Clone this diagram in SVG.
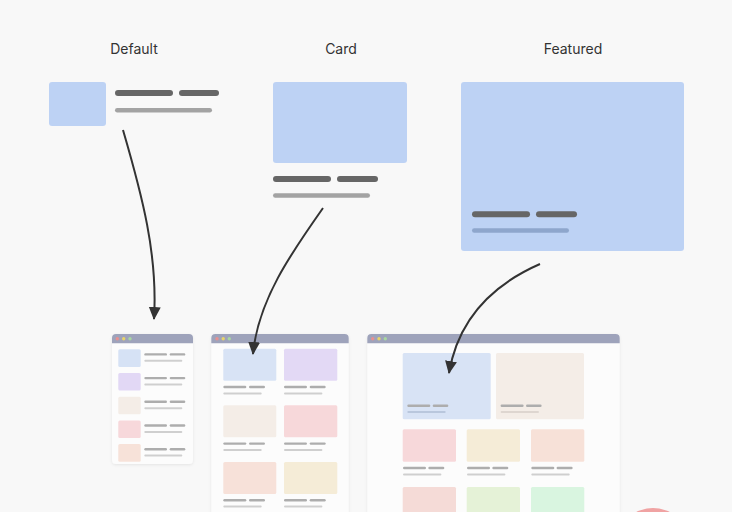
<svg xmlns="http://www.w3.org/2000/svg" width="732" height="512" viewBox="0 0 732 512">
<defs>
<style>
.lbl{font-family:Inter,"Noto Sans","Liberation Sans",sans-serif;font-size:14px;fill:#333;text-anchor:middle}
.hero{fill:#bdd2f4}
.dk{fill:#666}
.lt{fill:#a3a3a3}
.win{fill:#fcfcfc;filter:url(#sh)}
.hdr{fill:#9ea3bb}
.sb{fill:#adadad}
.sl{fill:#cfcfcf}
.conn{fill:none;stroke:#333;stroke-width:2}
</style>
<filter id="sh" x="-10%" y="-10%" width="120%" height="120%">
<feDropShadow dx="0" dy="1" stdDeviation="1.5" flood-color="#000" flood-opacity="0.08"/>
</filter>
<marker id="ah" markerUnits="userSpaceOnUse" markerWidth="14" markerHeight="14" viewBox="0 0 14 14" refX="12" refY="7" orient="auto">
<path d="M0,1 L13,7 L0,13 z" fill="#333"/>
</marker>
</defs>
<rect width="732" height="512" fill="#f8f8f8"/>

<g id="default">
<text class="lbl" x="134" y="54">Default</text>
<rect class="hero" x="49" y="82" width="57" height="44" rx="3"/>
<rect class="dk" x="115" y="90" width="58" height="6" rx="3"/>
<rect class="dk" x="179" y="90" width="40" height="6" rx="3"/>
<rect class="lt" x="115" y="108" width="97" height="4.5" rx="2.25"/>
</g>

<g id="card">
<text class="lbl" x="341" y="54">Card</text>
<rect class="hero" x="273" y="82" width="134" height="81" rx="3"/>
<rect class="dk" x="273" y="176" width="58" height="6" rx="3"/>
<rect class="dk" x="337" y="176" width="41" height="6" rx="3"/>
<rect class="lt" x="273" y="193.3" width="97" height="4.5" rx="2.25"/>
</g>

<g id="featured">
<text class="lbl" x="573" y="54">Featured</text>
<rect class="hero" x="461" y="82" width="223" height="169" rx="3"/>
<rect class="dk" x="472" y="211.3" width="58" height="6" rx="3"/>
<rect class="dk" x="536" y="211.3" width="41" height="6" rx="3"/>
<rect x="472" y="228.3" width="97" height="4.5" rx="2.25" fill="#8ea6cc"/>
</g>

<g id="window-list">
<rect class="win" x="112" y="334" width="81" height="130" rx="4"/>
<path class="hdr" d="M112,343.3 V338 a4,4 0 0 1 4,-4 H189 a4,4 0 0 1 4,4 V343.3 z"/>
<circle cx="117.3" cy="338.7" r="1.7" fill="#e89090"/>
<circle cx="123.7" cy="338.7" r="1.7" fill="#e8d46a"/>
<circle cx="130" cy="338.7" r="1.7" fill="#a9d8a1"/>
<rect x="118.3" y="349.3" width="22.4" height="17.6" rx="1.5" fill="#d6e2f5"/>
<rect x="118.3" y="373" width="22.4" height="17.6" rx="1.5" fill="#e2d8f5"/>
<rect x="118.3" y="396.7" width="22.4" height="17.6" rx="1.5" fill="#f4ede7"/>
<rect x="118.3" y="420.4" width="22.4" height="17.6" rx="1.5" fill="#f7d8db"/>
<rect x="118.3" y="444.1" width="22.4" height="17.6" rx="1.5" fill="#f7e2d9"/>
<g>
<rect class="sb" x="144.3" y="353.2" width="22.7" height="2.4" rx="1.2"/>
<rect class="sb" x="169.7" y="353.2" width="15.6" height="2.4" rx="1.2"/>
<rect class="sl" x="144.3" y="359.8" width="38" height="2" rx="1"/>
<rect class="sb" x="144.3" y="376.9" width="22.7" height="2.4" rx="1.2"/>
<rect class="sb" x="169.7" y="376.9" width="15.6" height="2.4" rx="1.2"/>
<rect class="sl" x="144.3" y="383.5" width="38" height="2" rx="1"/>
<rect class="sb" x="144.3" y="400.6" width="22.7" height="2.4" rx="1.2"/>
<rect class="sb" x="169.7" y="400.6" width="15.6" height="2.4" rx="1.2"/>
<rect class="sl" x="144.3" y="407.2" width="38" height="2" rx="1"/>
<rect class="sb" x="144.3" y="424.3" width="22.7" height="2.4" rx="1.2"/>
<rect class="sb" x="169.7" y="424.3" width="15.6" height="2.4" rx="1.2"/>
<rect class="sl" x="144.3" y="430.9" width="38" height="2" rx="1"/>
<rect class="sb" x="144.3" y="448" width="22.7" height="2.4" rx="1.2"/>
<rect class="sb" x="169.7" y="448" width="15.6" height="2.4" rx="1.2"/>
<rect class="sl" x="144.3" y="454.6" width="38" height="2" rx="1"/>
</g>
</g>

<g id="window-grid">
<rect class="win" x="211.3" y="334" width="137.4" height="190" rx="4"/>
<path class="hdr" d="M211.3,343.3 V338 a4,4 0 0 1 4,-4 H344.7 a4,4 0 0 1 4,4 V343.3 z"/>
<circle cx="217" cy="338.7" r="1.7" fill="#e89090"/>
<circle cx="223.2" cy="338.7" r="1.7" fill="#e8d46a"/>
<circle cx="229.3" cy="338.7" r="1.7" fill="#a9d8a1"/>
<rect x="223.3" y="348.7" width="53" height="32" rx="1.5" fill="#d8e3f5"/>
<rect x="284" y="348.7" width="53.3" height="32" rx="1.5" fill="#e3d9f5"/>
<rect x="223.3" y="405.3" width="53" height="32" rx="1.5" fill="#f4ede7"/>
<rect x="284" y="405.3" width="53.3" height="32" rx="1.5" fill="#f7d8da"/>
<rect x="223.3" y="461.9" width="53" height="32" rx="1.5" fill="#f7e1d9"/>
<rect x="284" y="461.9" width="53.3" height="32" rx="1.5" fill="#f5ecd7"/>
<g>
<rect class="sb" x="223.3" y="385.8" width="23" height="2.4" rx="1.2"/>
<rect class="sb" x="249" y="385.8" width="16" height="2.4" rx="1.2"/>
<rect class="sl" x="223.3" y="392.4" width="38.4" height="2" rx="1"/>
<rect class="sb" x="284" y="385.8" width="23" height="2.4" rx="1.2"/>
<rect class="sb" x="309.7" y="385.8" width="16" height="2.4" rx="1.2"/>
<rect class="sl" x="284" y="392.4" width="38.4" height="2" rx="1"/>
<rect class="sb" x="223.3" y="442.4" width="23" height="2.4" rx="1.2"/>
<rect class="sb" x="249" y="442.4" width="16" height="2.4" rx="1.2"/>
<rect class="sl" x="223.3" y="449" width="38.4" height="2" rx="1"/>
<rect class="sb" x="284" y="442.4" width="23" height="2.4" rx="1.2"/>
<rect class="sb" x="309.7" y="442.4" width="16" height="2.4" rx="1.2"/>
<rect class="sl" x="284" y="449" width="38.4" height="2" rx="1"/>
<rect class="sb" x="223.3" y="499" width="23" height="2.4" rx="1.2"/>
<rect class="sb" x="249" y="499" width="16" height="2.4" rx="1.2"/>
<rect class="sl" x="223.3" y="505.6" width="38.4" height="2" rx="1"/>
<rect class="sb" x="284" y="499" width="23" height="2.4" rx="1.2"/>
<rect class="sb" x="309.7" y="499" width="16" height="2.4" rx="1.2"/>
<rect class="sl" x="284" y="505.6" width="38.4" height="2" rx="1"/>
</g>
</g>

<g id="window-featured">
<rect class="win" x="367.3" y="334" width="252.4" height="190" rx="4"/>
<path class="hdr" d="M367.3,343.3 V338 a4,4 0 0 1 4,-4 H615.7 a4,4 0 0 1 4,4 V343.3 z"/>
<circle cx="372.7" cy="338.7" r="1.7" fill="#e89090"/>
<circle cx="379" cy="338.7" r="1.7" fill="#e8d46a"/>
<circle cx="385.3" cy="338.7" r="1.7" fill="#a9d8a1"/>
<rect x="402.7" y="353" width="88" height="66.3" rx="1.5" fill="#d8e3f5"/>
<rect x="496" y="353" width="88" height="66.3" rx="1.5" fill="#f4ede7"/>
<rect class="sb" x="407.3" y="404.6" width="23" height="2.4" rx="1.2"/>
<rect class="sb" x="432.7" y="404.6" width="15.6" height="2.4" rx="1.2"/>
<rect x="407.3" y="411" width="38.4" height="2" rx="1" fill="#b9c7dd"/>
<rect class="sb" x="500.6" y="404.6" width="23" height="2.4" rx="1.2"/>
<rect class="sb" x="526" y="404.6" width="15.6" height="2.4" rx="1.2"/>
<rect x="500.6" y="411" width="38.4" height="2" rx="1" fill="#ded6d0"/>
<rect x="402.7" y="429.3" width="53.3" height="32.4" rx="1.5" fill="#f7d8da"/>
<rect x="466.7" y="429.3" width="53.3" height="32.4" rx="1.5" fill="#f5ecd7"/>
<rect x="531" y="429.3" width="53.3" height="32.4" rx="1.5" fill="#f7e1d8"/>
<rect class="sb" x="403" y="466.8" width="23" height="2.4" rx="1.2"/>
<rect class="sb" x="428.3" y="466.8" width="16" height="2.4" rx="1.2"/>
<rect class="sl" x="403" y="473.4" width="38.4" height="2" rx="1"/>
<rect class="sb" x="467" y="466.8" width="23" height="2.4" rx="1.2"/>
<rect class="sb" x="492.3" y="466.8" width="16" height="2.4" rx="1.2"/>
<rect class="sl" x="467" y="473.4" width="38.4" height="2" rx="1"/>
<rect class="sb" x="531.3" y="466.8" width="23" height="2.4" rx="1.2"/>
<rect class="sb" x="556.6" y="466.8" width="16" height="2.4" rx="1.2"/>
<rect class="sl" x="531.3" y="473.4" width="38.4" height="2" rx="1"/>
<rect x="402.7" y="487" width="53.3" height="32.4" rx="1.5" fill="#f5dbd7"/>
<rect x="466.7" y="487" width="53.3" height="32.4" rx="1.5" fill="#e5f2d7"/>
<rect x="531" y="487" width="53.3" height="32.4" rx="1.5" fill="#d9f5e0"/>
</g>

<circle id="badge" cx="653" cy="545" r="37" fill="#f0a3a3"/>

<g id="connectors">
<path class="conn" marker-end="url(#ah)" d="M123,130 C142,195 158,255 154,319"/>
<path class="conn" marker-end="url(#ah)" d="M323,208 C292,252 258,300 253,354"/>
<path class="conn" marker-end="url(#ah)" d="M540,264 C492,285 458,320 449,373"/>
</g>
</svg>
